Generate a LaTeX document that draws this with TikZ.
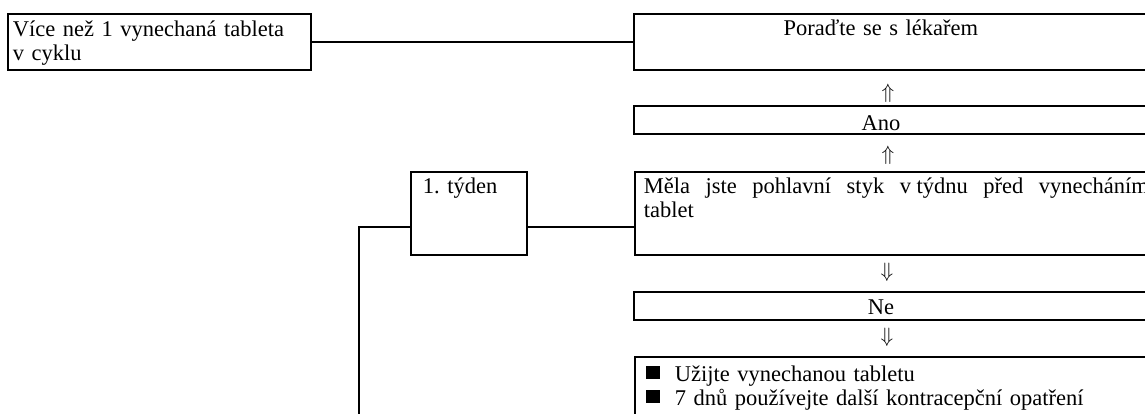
\documentclass[tikz,border=0pt]{standalone}
\usepackage{fontspec}
\setmainfont{Liberation Serif}
\usepackage{amssymb}
\tolerance=9999
\frenchspacing

\begin{document}
\begin{tikzpicture}[x=1pt, y=-1pt,
  font=\fontsize{22.5}{24}\selectfont,
  box/.style={draw, line width=1.8pt, anchor=north west, align=left,
    inner xsep=5pt, inner ysep=0pt},
  link/.style={line width=1.8pt},
  arr/.style={font=\fontsize{20}{20}\selectfont, inner sep=0pt}
  ]
  \useasboundingbox (0,0) rectangle (1145,414);
  \clip (0,0) rectangle (1145,414);
  % left column
  \node[box, text width=293pt, text height=23pt, text depth=33pt] (vice) at (7,13)
    {Více než 1 vynechaná tableta\\v cyklu};
  \node[box, inner xsep=12pt, text width=92pt, text height=22pt, text depth=61pt] (tyden) at (410,171)
    {1. týden};
  % right column
  \node[box, text width=527pt, text height=22pt, text depth=34pt] (lekar) at (633,13)
    {\makebox[484pt]{Poraďte se s lékařem}};
  \node[arr] (up1) at (888,93) {$\Uparrow$};
  \node[box, text width=527pt, text height=25pt, text depth=3pt] (ano) at (633,105)
    {\makebox[484pt]{Ano}};
  \node[arr] (up2) at (888,155) {$\Uparrow$};
  \node[box, align=justify, inner xsep=9pt, text width=505pt, text height=22pt, text depth=61pt] (mela) at (634,171)
    {Měla jste pohlavní styk \mbox{v týdnu} před vynecháním\linebreak tablet};
  \node[arr] (down1) at (887,272) {$\Downarrow$};
  \node[box, text width=527pt, text height=23pt, text depth=5pt] (ne) at (633,291)
    {\makebox[484pt]{Ne}};
  \node[arr] (down2) at (887,337) {$\Downarrow$};
  \node[box, inner xsep=11pt, text width=520pt, text height=25pt, text depth=60pt] (uzijte) at (634,356)
    {\rule[3pt]{14pt}{13pt}\hspace{15pt}Užijte vynechanou tabletu\\
     \rule[3pt]{14pt}{13pt}\hspace{15pt}7 dnů používejte další kontracepční opatření};
  % connectors
  \coordinate (bottom) at (359,420);
  \draw[link] (vice) -- (lekar);
  \draw[link] ([yshift=-13.5pt]tyden.east) -- ([yshift=-13.5pt]tyden.east -| mela.west);
  \draw[link] ([yshift=-13.5pt]tyden.west) -| (bottom);
\end{tikzpicture}
\end{document}
